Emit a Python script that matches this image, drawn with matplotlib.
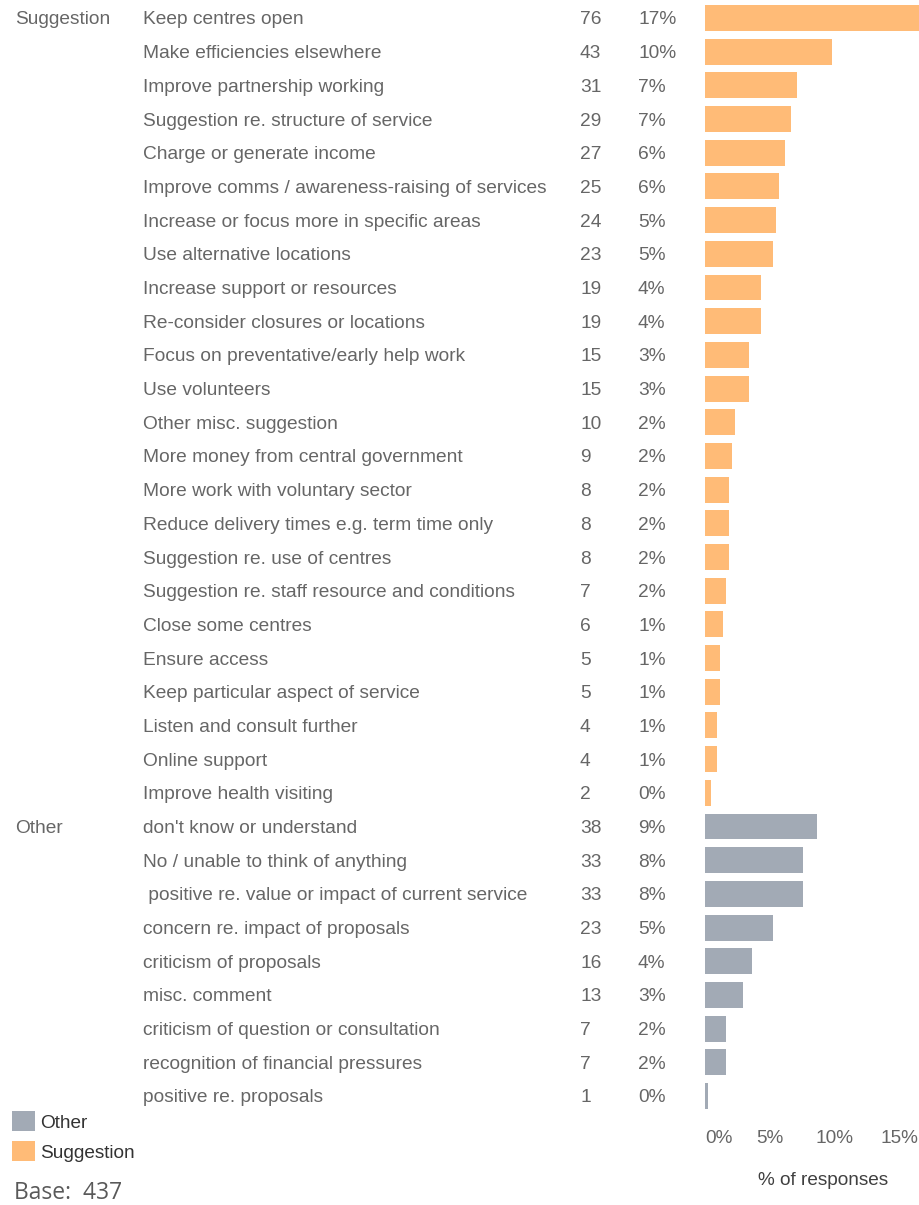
import matplotlib.pyplot as plt
import matplotlib.transforms as mtransforms
from matplotlib.patches import Patch

plt.rcParams['font.family'] = ['Liberation Sans', 'DejaVu Sans']

BASE = 437

suggestion_labels = [
    'Keep centres open', 'Make efficiencies elsewhere', 'Improve partnership working',
    'Suggestion re. structure of service', 'Charge or generate income',
    'Improve comms / awareness-raising of services', 'Increase or focus more in specific areas',
    'Use alternative locations', 'Increase support or resources', 'Re-consider closures or locations',
    'Focus on preventative/early help work', 'Use volunteers', 'Other misc. suggestion',
    'More money from central government', 'More work with voluntary sector',
    'Reduce delivery times e.g. term time only', 'Suggestion re. use of centres',
    'Suggestion re. staff resource and conditions', 'Close some centres', 'Ensure access',
    'Keep particular aspect of service', 'Listen and consult further', 'Online support',
    'Improve health visiting',
]
suggestion_counts = [76, 43, 31, 29, 27, 25, 24, 23, 19, 19, 15, 15, 10, 9, 8, 8, 8, 7, 6, 5, 5, 4, 4, 2]

other_labels = [
    "don't know or understand", 'No / unable to think of anything',
    ' positive re. value or impact of current service', 'concern re. impact of proposals',
    'criticism of proposals', 'misc. comment', 'criticism of question or consultation',
    'recognition of financial pressures', 'positive re. proposals',
]
other_counts = [38, 33, 33, 23, 16, 13, 7, 7, 1]

x_ticks = [0, 5, 10, 15]

c_sugg = '#FFBB77'
c_other = '#A2AAB5'
txt = '#666666'

W, H = 919, 1205
fig = plt.figure(figsize=(W / 100, H / 100), dpi=100)

labels = suggestion_labels + other_labels
counts = suggestion_counts + other_counts
groups = ['Suggestion'] * len(suggestion_labels) + ['Other'] * len(other_labels)
colors = [c_sugg if g == 'Suggestion' else c_other for g in groups]
pcts = [c / BASE * 100 for c in counts]
n = len(labels)

# row 0 centre at y=18px, last row at y=1096px
pitch = (1096 - 18) / (n - 1)
top_px = 18 - 0.5 * pitch
bot_px = 1096 + 0.5 * pitch
left_px = 705
ax = fig.add_axes([left_px / W, 1 - bot_px / H, (W - left_px) / W, (bot_px - top_px) / H])

y = list(range(n))
ax.barh(y, pcts, height=0.77, color=colors, edgecolor='none')
ax.set_ylim(n - 0.5, -0.5)
ax.set_xlim(0, 16.55)  # the longest bar runs off the edge, as in the original

for s in ax.spines.values():
    s.set_visible(False)
ax.set_yticks([])
ax.set_xticks(x_ticks)
ax.set_xticklabels([f'{t}%' for t in x_ticks], fontsize=13.7, color=txt)
ax.tick_params(axis='x', length=0, pad=12)
ax.get_xticklabels()[0].set_ha('left')
ax.set_xlabel('% of responses', fontsize=13.7, color='#404040')
ax.xaxis.set_label_coords(0.551, -0.053)

trans = mtransforms.blended_transform_factory(fig.transFigure, ax.transData)
fs = 13.75
prev = None
for i in range(n):
    if groups[i] != prev:
        ax.text(15 / W, i, groups[i], transform=trans, ha='left', va='center_baseline',
                fontsize=fs, color=txt)
        prev = groups[i]
    ax.text(143 / W, i, labels[i], transform=trans, ha='left', va='center_baseline',
            fontsize=fs, color=txt)
    ax.text(580 / W, i, str(counts[i]), transform=trans, ha='left', va='center_baseline',
            fontsize=fs, color=txt)
    ax.text(638 / W, i, f'{pcts[i]:.0f}%', transform=trans, ha='left', va='center_baseline',
            fontsize=fs, color=txt)

handles = [Patch(facecolor=c_other, edgecolor='none', label='Other'),
           Patch(facecolor=c_sugg, edgecolor='none', label='Suggestion')]
fig.legend(handles=handles, loc='upper left', bbox_to_anchor=(-1 / W, 1 - 1098 / H),
           frameon=False, fontsize=13.7, labelcolor='#333333', handlelength=1.2,
           handleheight=1.25, handletextpad=0.25, labelspacing=0.5, borderpad=0.2)

fig.text(14 / W, 1 - 1193 / H, 'Base:  437', fontsize=16.5, color='#595959',
         family=['Open Sans', 'DejaVu Sans'], ha='left', va='center')

fig.savefig('out.png', dpi=100)
